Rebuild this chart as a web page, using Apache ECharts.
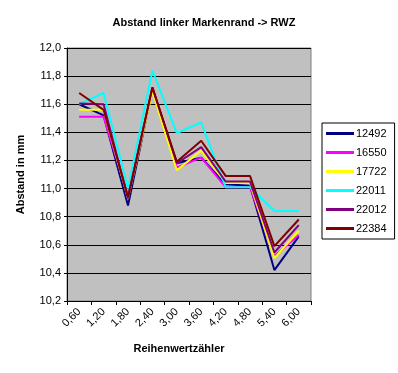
<!DOCTYPE html>
<html><head><meta charset="utf-8">
<script src="https://cdn.jsdelivr.net/npm/echarts@6/dist/echarts.min.js"></script>
<style>html,body{margin:0;padding:0;background:#fff}#c{width:398px;height:373px}</style>
</head><body><div id="c"></div>
<script>
const categories = ['0,60','1,20','1,80','2,40','3,00','3,60','4,20','4,80','5,40','6,00'];
const seriesNames = ['12492','16550','17722','22011','22012','22384'];
const colors = ['#000080','#FF00FF','#FFFF00','#00FFFF','#800080','#800000'];
const s12492 = [11.60,11.52,10.88,11.71,11.18,11.22,11.03,11.02,10.42,10.66];
const s16550 = [11.51,11.51,10.95,11.70,11.15,11.22,11.01,11.01,10.52,10.67];
const s17722 = [11.56,11.56,10.93,11.69,11.13,11.27,11.04,11.04,10.505,10.70];
const s22011 = [11.60,11.68,11.00,11.84,11.395,11.47,11.01,11.01,10.84,10.84];
const s22012 = [11.605,11.60,10.93,11.72,11.18,11.295,11.05,11.05,10.545,10.74];
const s22384 = [11.68,11.56,10.94,11.72,11.19,11.34,11.09,11.09,10.59,10.78];
const allData = [s12492,s16550,s17722,s22011,s22012,s22384];

const font = 'Liberation Sans, Arial, sans-serif';
const chart = echarts.init(document.getElementById('c'));
chart.setOption({
  animation: false,
  backgroundColor: '#ffffff',
  title: {
    text: 'Abstand linker Markenrand -> RWZ',
    left: 199, top: 12, textAlign: 'center',
    textStyle: {fontFamily: font, fontSize: 11, fontWeight: 'bold', color: '#000'}
  },
  legend: {
    orient: 'vertical', left: 322, top: 123,
    padding: [4, 8, 4, 4], itemGap: 6,
    backgroundColor: '#fff', borderColor: '#000', borderWidth: 1,
    icon: 'rect', itemWidth: 28, itemHeight: 3,
    textStyle: {fontFamily: font, fontSize: 11, color: '#000', padding: [0,0,0,-3], lineHeight: 13},
    data: seriesNames
  },
  grid: {
    left: 67, right: 87, top: 48, bottom: 72,
    show: true, backgroundColor: '#C0C0C0', borderColor: '#808080', borderWidth: 1
  },
  xAxis: {
    type: 'category', data: categories, boundaryGap: true,
    name: 'Reihenwertzähler', nameLocation: 'middle', nameGap: 42,
    nameTextStyle: {fontFamily: font, fontSize: 11, fontWeight: 'bold', color: '#000', padding: [0,20,0,0]},
    axisLine: {lineStyle: {color: '#000', width: 1}},
    axisTick: {show: true, length: 4, lineStyle: {color: '#000'}},
    axisLabel: {rotate: 45, fontFamily: font, fontSize: 11, color: '#000', margin: 9, interval: 0},
    splitLine: {show: false}
  },
  yAxis: {
    type: 'value', min: 10.2, max: 12.0, interval: 0.2,
    name: 'Abstand in mm', nameLocation: 'middle', nameGap: 41, nameRotate: 90,
    nameTextStyle: {fontFamily: font, fontSize: 11, fontWeight: 'bold', color: '#000'},
    axisLine: {show: true, lineStyle: {color: '#000', width: 1}},
    axisTick: {show: true, length: 3, lineStyle: {color: '#000'}},
    axisLabel: {fontFamily: font, fontSize: 11, color: '#000', margin: 6,
      formatter: v => v.toFixed(1).replace('.', ',')},
    splitLine: {show: true, lineStyle: {color: '#000', width: 1}}
  },
  series: seriesNames.map((n, i) => ({
    name: n, type: 'line', data: allData[i],
    symbol: 'none', lineStyle: {color: colors[i], width: 2}, itemStyle: {color: colors[i]}
  }))
});
</script></body></html>
